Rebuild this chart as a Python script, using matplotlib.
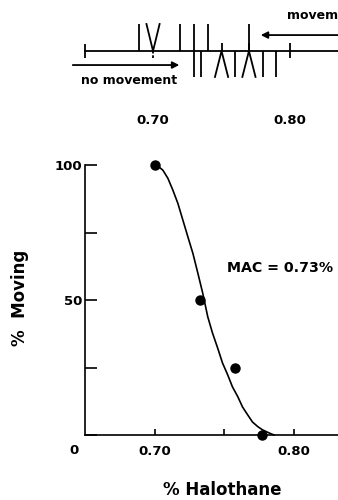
import matplotlib
matplotlib.use("Agg")
import matplotlib.pyplot as plt

# bracketing diagram (top): concentrations of each trial
moved_single = [0.69, 0.72, 0.73, 0.74, 0.77]
moved_pair = [0.70]
still_single = [0.73, 0.735, 0.76, 0.78, 0.79]
still_pair = [0.75, 0.77]
top_ticks = [0.70, 0.80]
top_tick_labels = ["0.70", "0.80"]

# dose-response (bottom)
conc = [0.70, 0.733, 0.758, 0.777]
moving = [100, 50, 25, 0]
# fitted curve
curve_x = [0.700, 0.7024, 0.7060, 0.7096, 0.7132, 0.7168, 0.7204, 0.7240,
           0.7276, 0.7312, 0.7347, 0.7383, 0.7417, 0.7455, 0.7489, 0.7527,
           0.7561, 0.7599, 0.7633, 0.7671, 0.7705, 0.7743, 0.7777, 0.7827,
           0.786]
curve_y = [100, 99.6, 98.1, 95.1, 90.7, 85.8, 79.6, 73.4,
           67.3, 59.9, 52.5, 43.8, 37.8, 32.1, 26.7, 22.2,
           17.8, 14.2, 10.4, 7.4, 4.8, 3.1, 1.9, 0.7,
           0]
x_ticks = [0.70, 0.75, 0.80]
x_tick_labels = ["0.70", "", "0.80"]
y_ticks = [0, 25, 50, 75, 100]
y_tick_labels = ["", "", "50", "", "100"]

plt.rcParams["font.family"] = "DejaVu Sans"
plt.rcParams["font.weight"] = "bold"

fig = plt.figure(figsize=(3.38, 5.0), dpi=100)

# ---- top panel ----
ax_t = fig.add_axes([0, 0.79, 1, 0.21])
ax_t.set_xlim(0.5883, 0.8350)
ax_t.set_ylim(-2.0, 1.889)
for s in ax_t.spines.values():
    s.set_visible(False)
ax_t.set_yticks([])
ax_t.set_xticks(top_ticks)
ax_t.set_xticklabels(top_tick_labels, fontsize=9.5, fontweight="bold")
ax_t.tick_params(axis="x", length=0, pad=6.5)

lw = 1.3
ax_t.plot([0.65, 0.84], [0, 0], color="black", lw=lw, clip_on=False)
ax_t.vlines(0.65, -0.26, 0.26, color="black", lw=lw)
ax_t.vlines(0.80, -0.26, 0.3, color="black", lw=lw)
ax_t.vlines(moved_single, 0, 1, color="black", lw=lw)
ax_t.vlines(still_single, -0.96, 0, color="black", lw=lw)
d = 0.0048
for x in moved_pair:
    ax_t.plot([x - d, x, x + d], [1, 0, 1], color="black", lw=lw)
    ax_t.vlines(x, -0.26, 0, color="black", lw=lw, linestyles=(0, (1.5, 1)))
for x in still_pair:
    ax_t.plot([x - d, x, x + d], [-0.96, 0, -0.96], color="black", lw=lw)
    ax_t.vlines(x, 0, 0.3, color="black", lw=lw)

ax_t.annotate("", xy=(0.7212, -0.52), xytext=(0.6394, -0.52),
              arrowprops=dict(arrowstyle="-|>", color="black", lw=1.3,
                              mutation_scale=10))
ax_t.annotate("", xy=(0.7766, 0.59), xytext=(0.84, 0.59),
              arrowprops=dict(arrowstyle="-|>", color="black", lw=1.3,
                              mutation_scale=10))
ax_t.text(0.6825, -1.11, "no movement", ha="center", va="center",
          fontsize=9, fontweight="bold")
# cut off by the right edge, as in the original
ax_t.text(0.7978, 1.30, "movement", ha="left", va="center",
          fontsize=9, fontweight="bold", clip_on=False)

# ---- main panel ----
ax = fig.add_axes([85 / 338, 0.13, 253 / 338, 0.54])
ax.set_xlim(0.65, 0.832)
ax.set_ylim(0, 100)
ax.spines["top"].set_visible(False)
ax.spines["right"].set_visible(False)
for s in ["left", "bottom"]:
    ax.spines[s].set_linewidth(1.2)

ax.plot(curve_x, curve_y, color="black", lw=1.2, clip_on=False)
ax.plot(conc, moving, "o", color="black", ms=6.5, clip_on=False)

ax.set_xticks(x_ticks)
ax.set_xticklabels(x_tick_labels, fontsize=9.5, fontweight="bold")
ax.set_yticks(y_ticks)
ax.set_yticklabels(y_tick_labels, fontsize=9.5, fontweight="bold")
ax.tick_params(axis="x", direction="in", length=4.5, width=1.2, pad=7)
ax.tick_params(axis="y", direction="in", length=8.5, width=1.2, pad=2)
ax.annotate("0", xy=(0.65, 0), xytext=(-8, -11), textcoords="offset points",
            ha="center", va="center", fontsize=9.5, fontweight="bold")

ax.text(0.7525, 62, "MAC = 0.73%", ha="left", va="center",
        fontsize=10.2, fontweight="bold", clip_on=False)

fig.text(20 / 338, 1 - 298 / 500, "%  Moving", rotation=90,
         ha="center", va="center", fontsize=12, fontweight="bold")
fig.text(222 / 338, 1 - 490 / 500, "% Halothane",
         ha="center", va="center", fontsize=12, fontweight="bold")

fig.savefig("out.png", dpi=100)
